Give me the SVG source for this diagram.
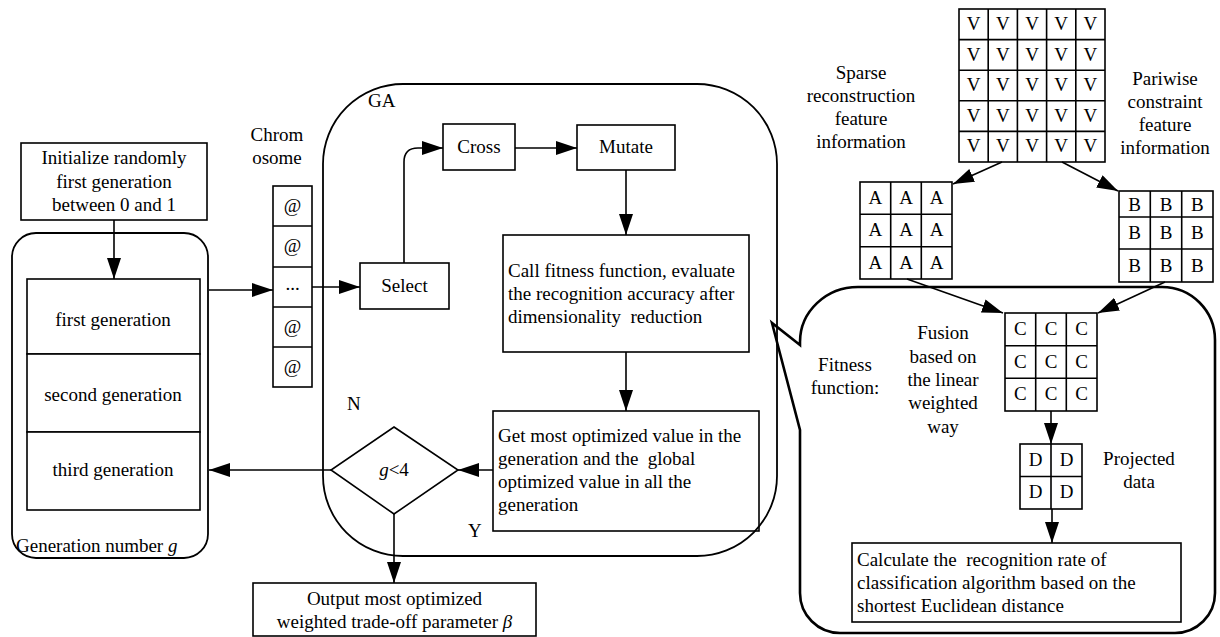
<svg xmlns="http://www.w3.org/2000/svg" width="1220" height="637" viewBox="0 0 1220 637" font-family="'Liberation Serif', 'DejaVu Serif', serif">
<defs>
<marker id="ah" markerUnits="userSpaceOnUse" markerWidth="21" markerHeight="14" refX="21" refY="7" orient="auto">
<path d="M0,0 L21,7 L0,14 Z" fill="#000"/>
</marker>
</defs>
<style>
text{font-family:'Liberation Serif','DejaVu Serif',serif;font-size:19px;fill:#000;white-space:pre}
.c{text-anchor:middle}
.box{fill:#fff;stroke:#000;stroke-width:1.6}
.grid{fill:none;stroke:#000;stroke-width:1.6}
.ln{fill:none;stroke:#000;stroke-width:1.6;marker-end:url(#ah)}
.frame{fill:none;stroke:#000;stroke-width:1.8}
.bub{fill:none;stroke:#000;stroke-width:2.6}
</style>

<g id="init">
<rect class="box" x="21" y="143" width="186" height="77"/>
<text class="c" x="114" y="164">Initialize randomly</text>
<text class="c" x="114" y="188">first generation</text>
<text class="c" x="114" y="211">between 0 and 1</text>
</g>

<g id="generations">
<rect class="frame" x="12" y="233" width="196" height="325" rx="24"/>
<rect class="box" x="27" y="279" width="173" height="75"/>
<rect class="box" x="27" y="354" width="173" height="78"/>
<rect class="box" x="27" y="432" width="173" height="78"/>
<text class="c" x="113" y="326">first generation</text>
<text class="c" x="113" y="401">second generation</text>
<text class="c" x="113" y="476">third generation</text>
<text x="16" y="552">Generation number <tspan font-style="italic">g</tspan></text>
</g>

<g id="chromosome">
<text class="c" x="277" y="141">Chrom</text>
<text class="c" x="277" y="164">osome</text>
<rect class="box" x="273" y="186" width="39" height="201"/>
<path class="grid" d="M273,226 H312 M273,267 H312 M273,307 H312 M273,347 H312"/>
<text class="c" x="292.5" y="212">@</text>
<text class="c" x="292.5" y="252">@</text>
<text class="c" x="292.5" y="290">...</text>
<text class="c" x="292.5" y="333">@</text>
<text class="c" x="292.5" y="373">@</text>
</g>

<g id="select">
<rect class="box" x="360" y="263" width="89" height="46"/>
<text class="c" x="404.5" y="292">Select</text>
</g>
<g id="cross">
<rect class="box" x="443" y="124" width="72" height="46"/>
<text class="c" x="479" y="153">Cross</text>
</g>
<g id="mutate">
<rect class="box" x="577" y="125" width="98" height="45"/>
<text class="c" x="626" y="153">Mutate</text>
</g>
<g id="callfitness">
<rect class="box" x="503" y="235" width="246" height="117"/>
<text x="508" y="277">Call fitness function, evaluate</text>
<text x="508" y="300">the recognition accuracy after</text>
<text x="508" y="323">dimensionality  reduction</text>
</g>
<g id="getopt">
<rect class="box" x="493" y="411" width="266" height="120"/>
<text x="498" y="442">Get most optimized value in the</text>
<text x="498" y="465">generation and the  global</text>
<text x="498" y="488">optimized value in all the</text>
<text x="498" y="511">generation</text>
</g>
<g id="decision">
<polygon class="box" points="394,427 458,470 394,514 331,470"/>
<text class="c" x="394" y="476"><tspan font-style="italic">g</tspan>&lt;4</text>
</g>
<g id="output">
<rect class="box" x="253" y="583" width="283" height="53"/>
<text class="c" x="394.5" y="605">Output most optimized</text>
<text class="c" x="394.5" y="628">weighted trade-off parameter <tspan font-style="italic">β</tspan></text>
</g>

<g id="ga">
<rect class="frame" x="323" y="84" width="454" height="472" rx="80"/>
<text x="368" y="107">GA</text>
<text x="347" y="410">N</text>
<text x="468" y="537">Y</text>
</g>

<g id="fitness-bubble">
<path class="bub" d="M800,345 L772,323 L800,430 L800,593 A40,40 0 0 0 840,633 L1175,633 A40,40 0 0 0 1215,593 L1215,340 A53,53 0 0 0 1162,287 L858,287 A58,55 0 0 0 800,342 Z"/>
<text class="c" x="845" y="371">Fitness</text>
<text class="c" x="845" y="394">function:</text>
<text class="c" x="943" y="339">Fusion</text>
<text class="c" x="943" y="363">based on</text>
<text class="c" x="943" y="386">the linear</text>
<text class="c" x="943" y="409">weighted</text>
<text class="c" x="943" y="433">way</text>
<text class="c" x="1139" y="465">Projected</text>
<text class="c" x="1139" y="488">data</text>
</g>

<g id="matrixV">
<rect class="box" x="959" y="9" width="146" height="153"/>
<path class="grid" d="M988.2,9 V162 M1017.4,9 V162 M1046.6,9 V162 M1075.8,9 V162 M959,39.6 H1105 M959,70.2 H1105 M959,100.8 H1105 M959,131.4 H1105"/>
<text class="c" x="973.6" y="30">V</text><text class="c" x="1002.8" y="30">V</text><text class="c" x="1032" y="30">V</text><text class="c" x="1061.2" y="30">V</text><text class="c" x="1090.4" y="30">V</text>
<text class="c" x="973.6" y="60.6">V</text><text class="c" x="1002.8" y="60.6">V</text><text class="c" x="1032" y="60.6">V</text><text class="c" x="1061.2" y="60.6">V</text><text class="c" x="1090.4" y="60.6">V</text>
<text class="c" x="973.6" y="91.2">V</text><text class="c" x="1002.8" y="91.2">V</text><text class="c" x="1032" y="91.2">V</text><text class="c" x="1061.2" y="91.2">V</text><text class="c" x="1090.4" y="91.2">V</text>
<text class="c" x="973.6" y="121.8">V</text><text class="c" x="1002.8" y="121.8">V</text><text class="c" x="1032" y="121.8">V</text><text class="c" x="1061.2" y="121.8">V</text><text class="c" x="1090.4" y="121.8">V</text>
<text class="c" x="973.6" y="152.4">V</text><text class="c" x="1002.8" y="152.4">V</text><text class="c" x="1032" y="152.4">V</text><text class="c" x="1061.2" y="152.4">V</text><text class="c" x="1090.4" y="152.4">V</text>
<text class="c" x="861" y="79">Sparse</text>
<text class="c" x="861" y="102">reconstruction</text>
<text class="c" x="861" y="125">feature</text>
<text class="c" x="861" y="148">information</text>
<text class="c" x="1165" y="85">Pariwise</text>
<text class="c" x="1165" y="108">constraint</text>
<text class="c" x="1165" y="131">feature</text>
<text class="c" x="1165" y="154">information</text>
</g>

<g id="matrixA">
<rect class="box" x="860" y="182" width="92" height="97"/>
<path class="grid" d="M890.7,182 V279 M921.3,182 V279 M860,214.3 H952 M860,246.7 H952"/>
<text class="c" x="875.3" y="204">A</text><text class="c" x="906" y="204">A</text><text class="c" x="936.7" y="204">A</text>
<text class="c" x="875.3" y="236">A</text><text class="c" x="906" y="236">A</text><text class="c" x="936.7" y="236">A</text>
<text class="c" x="875.3" y="269">A</text><text class="c" x="906" y="269">A</text><text class="c" x="936.7" y="269">A</text>
</g>

<g id="matrixB">
<rect class="box" x="1119" y="191" width="94" height="91"/>
<path class="grid" d="M1150.3,191 V282 M1181.7,191 V282 M1119,217 H1213 M1119,249 H1213"/>
<text class="c" x="1134.7" y="211">B</text><text class="c" x="1166" y="211">B</text><text class="c" x="1197.3" y="211">B</text>
<text class="c" x="1134.7" y="239">B</text><text class="c" x="1166" y="239">B</text><text class="c" x="1197.3" y="239">B</text>
<text class="c" x="1134.7" y="272">B</text><text class="c" x="1166" y="272">B</text><text class="c" x="1197.3" y="272">B</text>
</g>

<g id="matrixC">
<rect class="box" x="1005" y="313" width="92" height="98"/>
<path class="grid" d="M1035.7,313 V411 M1066.3,313 V411 M1005,345.7 H1097 M1005,378.3 H1097"/>
<text class="c" x="1020.3" y="335">C</text><text class="c" x="1051" y="335">C</text><text class="c" x="1081.7" y="335">C</text>
<text class="c" x="1020.3" y="368">C</text><text class="c" x="1051" y="368">C</text><text class="c" x="1081.7" y="368">C</text>
<text class="c" x="1020.3" y="400">C</text><text class="c" x="1051" y="400">C</text><text class="c" x="1081.7" y="400">C</text>
</g>

<g id="matrixD">
<rect class="box" x="1020" y="444" width="62" height="65"/>
<path class="grid" d="M1051,444 V509 M1020,476.5 H1082"/>
<text class="c" x="1035.5" y="466">D</text><text class="c" x="1066.5" y="466">D</text>
<text class="c" x="1035.5" y="498">D</text><text class="c" x="1066.5" y="498">D</text>
</g>

<g id="calculate">
<rect class="box" x="852" y="543" width="329" height="79"/>
<text x="857" y="566">Calculate the  recognition rate of</text>
<text x="857" y="589">classification algorithm based on the</text>
<text x="857" y="612">shortest Euclidean distance</text>
</g>

<g id="connectors">
<path class="ln" d="M114,220 L114,279"/>
<path class="ln" d="M209,290 L273,290"/>
<path class="ln" d="M312,287 L360,287"/>
<path class="ln" d="M404,263 L404,162 Q404,148 418,148 L443,148"/>
<path class="ln" d="M515,148 L577,148"/>
<path class="ln" d="M626,170 L626,235"/>
<path class="ln" d="M626,352 L626,411"/>
<path class="ln" d="M493,470 L458,470"/>
<path class="ln" d="M331,470 L209,470"/>
<path class="ln" d="M394,514 L394,583"/>
<path class="ln" d="M1002,162 L953,184"/>
<path class="ln" d="M1062,162 L1118,191"/>
<path class="ln" d="M907,279 L1003,313"/>
<path class="ln" d="M1165,282 L1098,313"/>
<path class="ln" d="M1051,411 L1051,444"/>
<path class="ln" d="M1052,509 L1052,543"/>
</g>
</svg>
